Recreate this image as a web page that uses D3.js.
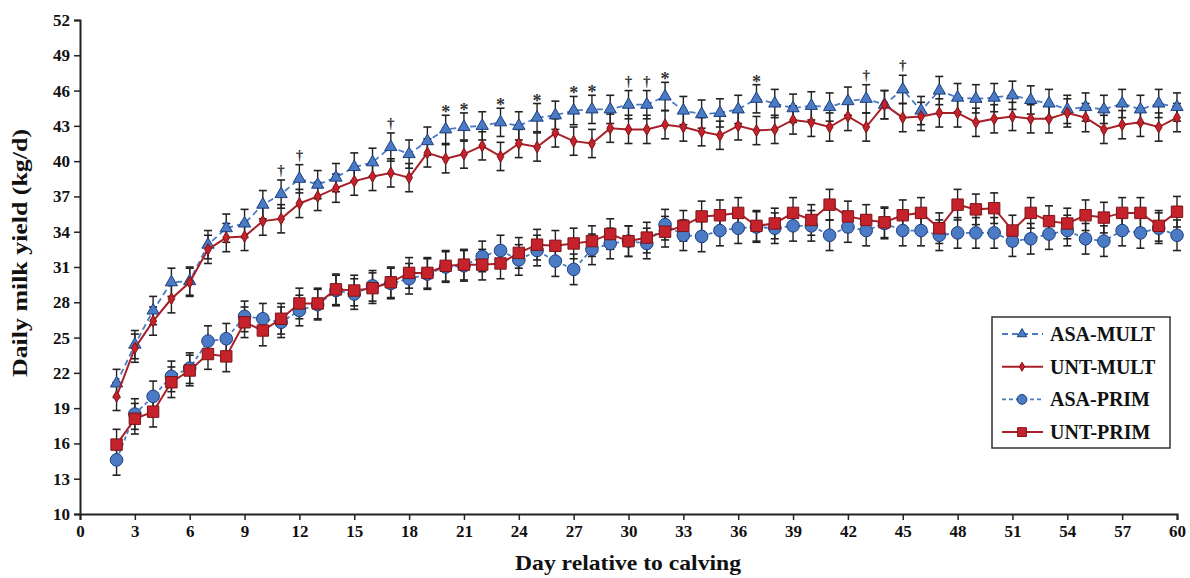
<!DOCTYPE html>
<html>
<head>
<meta charset="utf-8">
<script src="https://cdn.jsdelivr.net/npm/d3@7"></script>
<style>
  body { margin: 0; background: #fff; }
  svg { display: block; }
  text { font-family: "Liberation Serif", "Times New Roman", serif; font-weight: bold; fill: #111; }
</style>
</head>
<body>
<svg id="chart" width="1190" height="578"></svg>
<script>
// days 2..60
const days = d3.range(2, 61);

const asaMult = [21.1, 24.4, 27.3, 29.7, 29.8, 32.9, 34.3, 34.7, 36.3, 37.2, 38.5, 38.0, 38.6, 39.5, 39.9, 41.2, 40.6, 41.7, 42.7, 42.9,
  43.0, 43.3, 43.0, 43.7, 43.9, 44.3, 44.4, 44.4, 44.8, 44.8, 45.5, 44.3, 44.0, 44.1, 44.4, 45.3, 44.9, 44.5, 44.7, 44.6,
  45.1, 45.3, 44.8, 46.1, 44.3, 46.0, 45.4, 45.3, 45.4, 45.6, 45.2, 44.9, 44.4, 44.6, 44.4, 44.9, 44.4, 44.9, 44.6];
const untMult = [20.0, 24.1, 26.4, 28.3, 29.7, 32.5, 33.5, 33.6, 34.9, 35.1, 36.4, 37.0, 37.7, 38.3, 38.7, 39.0, 38.6, 40.7, 40.2, 40.6,
  41.3, 40.4, 41.5, 41.2, 42.4, 41.7, 41.5, 42.8, 42.7, 42.7, 43.1, 42.9, 42.5, 42.2, 43.0, 42.6, 42.7, 43.5, 43.3, 42.9,
  43.8, 42.9, 44.8, 43.7, 43.8, 44.1, 44.1, 43.3, 43.6, 43.8, 43.6, 43.6, 44.1, 43.7, 42.7, 43.1, 43.3, 42.9, 43.7];
const asaPrim = [14.6, 18.5, 20.0, 21.7, 22.4, 24.7, 24.9, 26.8, 26.6, 26.3, 27.3, 27.8, 29.0, 28.7, 29.4, 29.6, 30.0, 30.4, 31.0, 31.1,
  31.9, 32.4, 31.6, 32.4, 31.5, 30.8, 32.5, 33.0, 33.2, 33.0, 34.6, 33.7, 33.6, 34.1, 34.3, 34.4, 34.3, 34.5, 34.5, 33.7,
  34.4, 34.1, 34.7, 34.1, 34.1, 33.7, 33.9, 33.9, 33.9, 33.2, 33.4, 33.8, 34.1, 33.4, 33.2, 34.1, 33.9, 34.3, 33.7];
const untPrim = [15.9, 18.1, 18.7, 21.2, 22.2, 23.6, 23.4, 26.3, 25.6, 26.6, 27.9, 27.9, 29.1, 29.0, 29.2, 29.7, 30.5, 30.5, 31.1, 31.2,
  31.2, 31.3, 32.2, 32.9, 32.8, 33.0, 33.2, 33.8, 33.2, 33.5, 34.0, 34.5, 35.3, 35.4, 35.6, 34.5, 34.7, 35.6, 35.0, 36.3,
  35.3, 35.0, 34.8, 35.4, 35.6, 34.3, 36.3, 35.9, 36.0, 34.1, 35.6, 34.9, 34.7, 35.4, 35.2, 35.6, 35.6, 34.5, 35.7];

// standard errors
const seMult = 1.2;
const sePrim = 1.3;

// significance marks above ASA-MULT
const daggerDays = [11, 12, 17, 30, 31, 43, 45];
const starDays = [20, 21, 23, 25, 27, 28, 32, 37];

const xTicks = d3.range(0, 61, 3);
const yTicks = d3.range(10, 53, 3);

const blue = '#4a7bc4', blueDark = '#1d3f7e';
const red = '#c6222c', redDark = '#7d1418', redLine = '#a81f28';

const series = [
  { name: 'ASA-MULT', values: asaMult, se: seMult, dash: '6,4', line: blue, fill: blue, stroke: blueDark, symbol: d3.symbolTriangle, size: 65 },
  { name: 'UNT-MULT', values: untMult, se: seMult, dash: null, line: redLine, fill: red, stroke: redDark, symbol: d3.symbolDiamond, size: 40 },
  { name: 'ASA-PRIM', values: asaPrim, se: sePrim, dash: '4,3', line: blue, fill: blue, stroke: blueDark, symbol: d3.symbolCircle, size: 125 },
  { name: 'UNT-PRIM', values: untPrim, se: sePrim, dash: null, line: redLine, fill: red, stroke: redDark, symbol: d3.symbolSquare, size: 130 }
];

const svg = d3.select('#chart');
const x = d3.scaleLinear().domain([0, 60]).range([80, 1177]);
const y = d3.scaleLinear().domain([10, 52]).range([514, 20]);

// Axes
const gx = svg.append('g')
  .attr('transform', `translate(0,${y(10)})`)
  .call(d3.axisBottom(x).tickValues(xTicks).tickSize(6).tickPadding(5).tickFormat(d => d));
const gy = svg.append('g')
  .attr('transform', `translate(${x(0)},0)`)
  .call(d3.axisLeft(y).tickValues(yTicks).tickSize(6).tickPadding(4).tickFormat(d => d));
[gx, gy].forEach(g => {
  g.select('.domain').attr('stroke', '#222').attr('stroke-width', 2);
  g.selectAll('.tick line').attr('stroke', '#222').attr('stroke-width', 1.5);
  g.selectAll('.tick text').style('font-family', '"Liberation Serif", serif')
    .style('font-weight', 'bold').style('font-size', '17px').attr('fill', '#111');
});

// Axis titles
svg.append('text')
  .attr('x', 628).attr('y', 570)
  .attr('text-anchor', 'middle')
  .attr('textLength', 226).attr('lengthAdjust', 'spacingAndGlyphs')
  .style('font-size', '22px')
  .text('Day relative to calving');
svg.append('text')
  .attr('transform', `translate(27,253) rotate(-90)`)
  .attr('text-anchor', 'middle')
  .attr('textLength', 248).attr('lengthAdjust', 'spacingAndGlyphs')
  .style('font-size', '22px')
  .text('Daily milk yield (kg/d)');

// Error bars
series.forEach(s => {
  const g = svg.append('g');
  days.forEach((d, i) => {
    const v = s.values[i];
    const y0 = y(v - s.se), y1 = y(v + s.se), cx = x(d);
    g.append('line').attr('x1', cx).attr('x2', cx).attr('y1', y0).attr('y2', y1)
      .attr('stroke', '#222').attr('stroke-width', 1.4);
    [y0, y1].forEach(yy => g.append('line')
      .attr('x1', cx - 4).attr('x2', cx + 4).attr('y1', yy).attr('y2', yy)
      .attr('stroke', '#222').attr('stroke-width', 1.6));
  });
});

// Lines and markers
const line = d3.line().x((d, i) => x(days[i])).y(d => y(d));
series.forEach(s => {
  svg.append('path')
    .datum(s.values)
    .attr('fill', 'none')
    .attr('stroke', s.line)
    .attr('stroke-width', s.dash ? 1.8 : 2)
    .attr('stroke-dasharray', s.dash)
    .attr('d', line);
  svg.append('g').selectAll('path')
    .data(s.values)
    .join('path')
    .attr('transform', (d, i) => `translate(${x(days[i])},${y(d)})`)
    .attr('d', d3.symbol().type(s.symbol).size(s.size))
    .attr('fill', s.fill)
    .attr('stroke', s.stroke)
    .attr('stroke-width', 1);
});

// Significance marks
const sigs = daggerDays.map(d => ({ d, t: '†' })).concat(starDays.map(d => ({ d, t: '*' })));
svg.append('g').selectAll('text')
  .data(sigs)
  .join('text')
  .attr('x', s => x(s.d))
  .attr('y', s => y(asaMult[s.d - 2] + seMult) - (s.t === '*' ? -3 : 5))
  .attr('text-anchor', 'middle')
  .style('font-size', s => s.t === '*' ? '18px' : '15px')
  .style('font-weight', 'bold')
  .style('fill', '#333')
  .text(s => s.t);

// Legend
const lg = svg.append('g').attr('transform', 'translate(992,317)');
lg.append('rect').attr('width', 178).attr('height', 131)
  .attr('fill', '#fff').attr('stroke', '#333').attr('stroke-width', 1.5);
series.forEach((s, i) => {
  const ly = 17 + i * 32.7;
  lg.append('line').attr('x1', 10).attr('x2', 51).attr('y1', ly).attr('y2', ly)
    .attr('stroke', s.line).attr('stroke-width', s.dash ? 1.8 : 2)
    .attr('stroke-dasharray', s.dash);
  lg.append('path').attr('transform', `translate(30,${ly})`)
    .attr('d', d3.symbol().type(s.symbol).size(s.size * 0.6))
    .attr('fill', s.fill).attr('stroke', s.stroke).attr('stroke-width', 1);
  lg.append('text').attr('x', 58).attr('y', ly + 7)
    .style('font-size', '20px')
    .text(s.name);
});
</script>
</body>
</html>
